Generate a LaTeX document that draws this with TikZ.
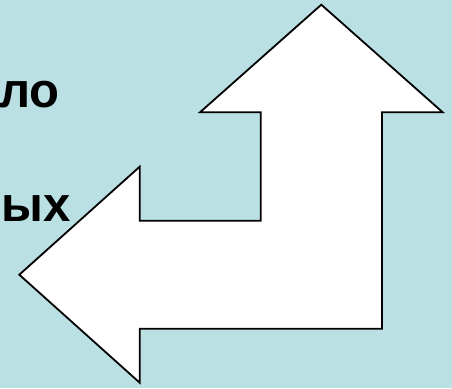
\documentclass[tikz,border=0pt]{standalone}
\usepackage{fontspec}
\setmainfont{Liberation Sans}
\definecolor{bgblue}{RGB}{186,224,227}
\tikzset{
  arrowshape/.style={draw=black, fill=white, line width=1.8pt, line join=miter},
  lbl/.style={font=\bfseries\fontsize{49}{55}\selectfont, text=black, inner sep=0pt, anchor=base east}
}
\begin{document}
\begin{tikzpicture}[x=1pt,y=-1pt]
\fill[bgblue] (0,0) rectangle (452,388);
\useasboundingbox (0,0) rectangle (452,388);
\begin{scope}
\clip (0,0) rectangle (452,388);
\node[lbl] (t1) at (60,107.7) {ло};
\node[lbl] (t2) at (71,221.7) {ых};
\end{scope}
\draw[arrowshape] (321.3,4.7) -- (442.7,112.3) -- (382,112.3) -- (382,328.7)
  -- (139.7,328.7) -- (139.7,382.7) -- (19.3,274.7) -- (139.7,166.7)
  -- (139.7,220.7) -- (260.7,220.7) -- (260.7,112.3) -- (200,112.3) -- cycle;
\end{tikzpicture}
\end{document}
